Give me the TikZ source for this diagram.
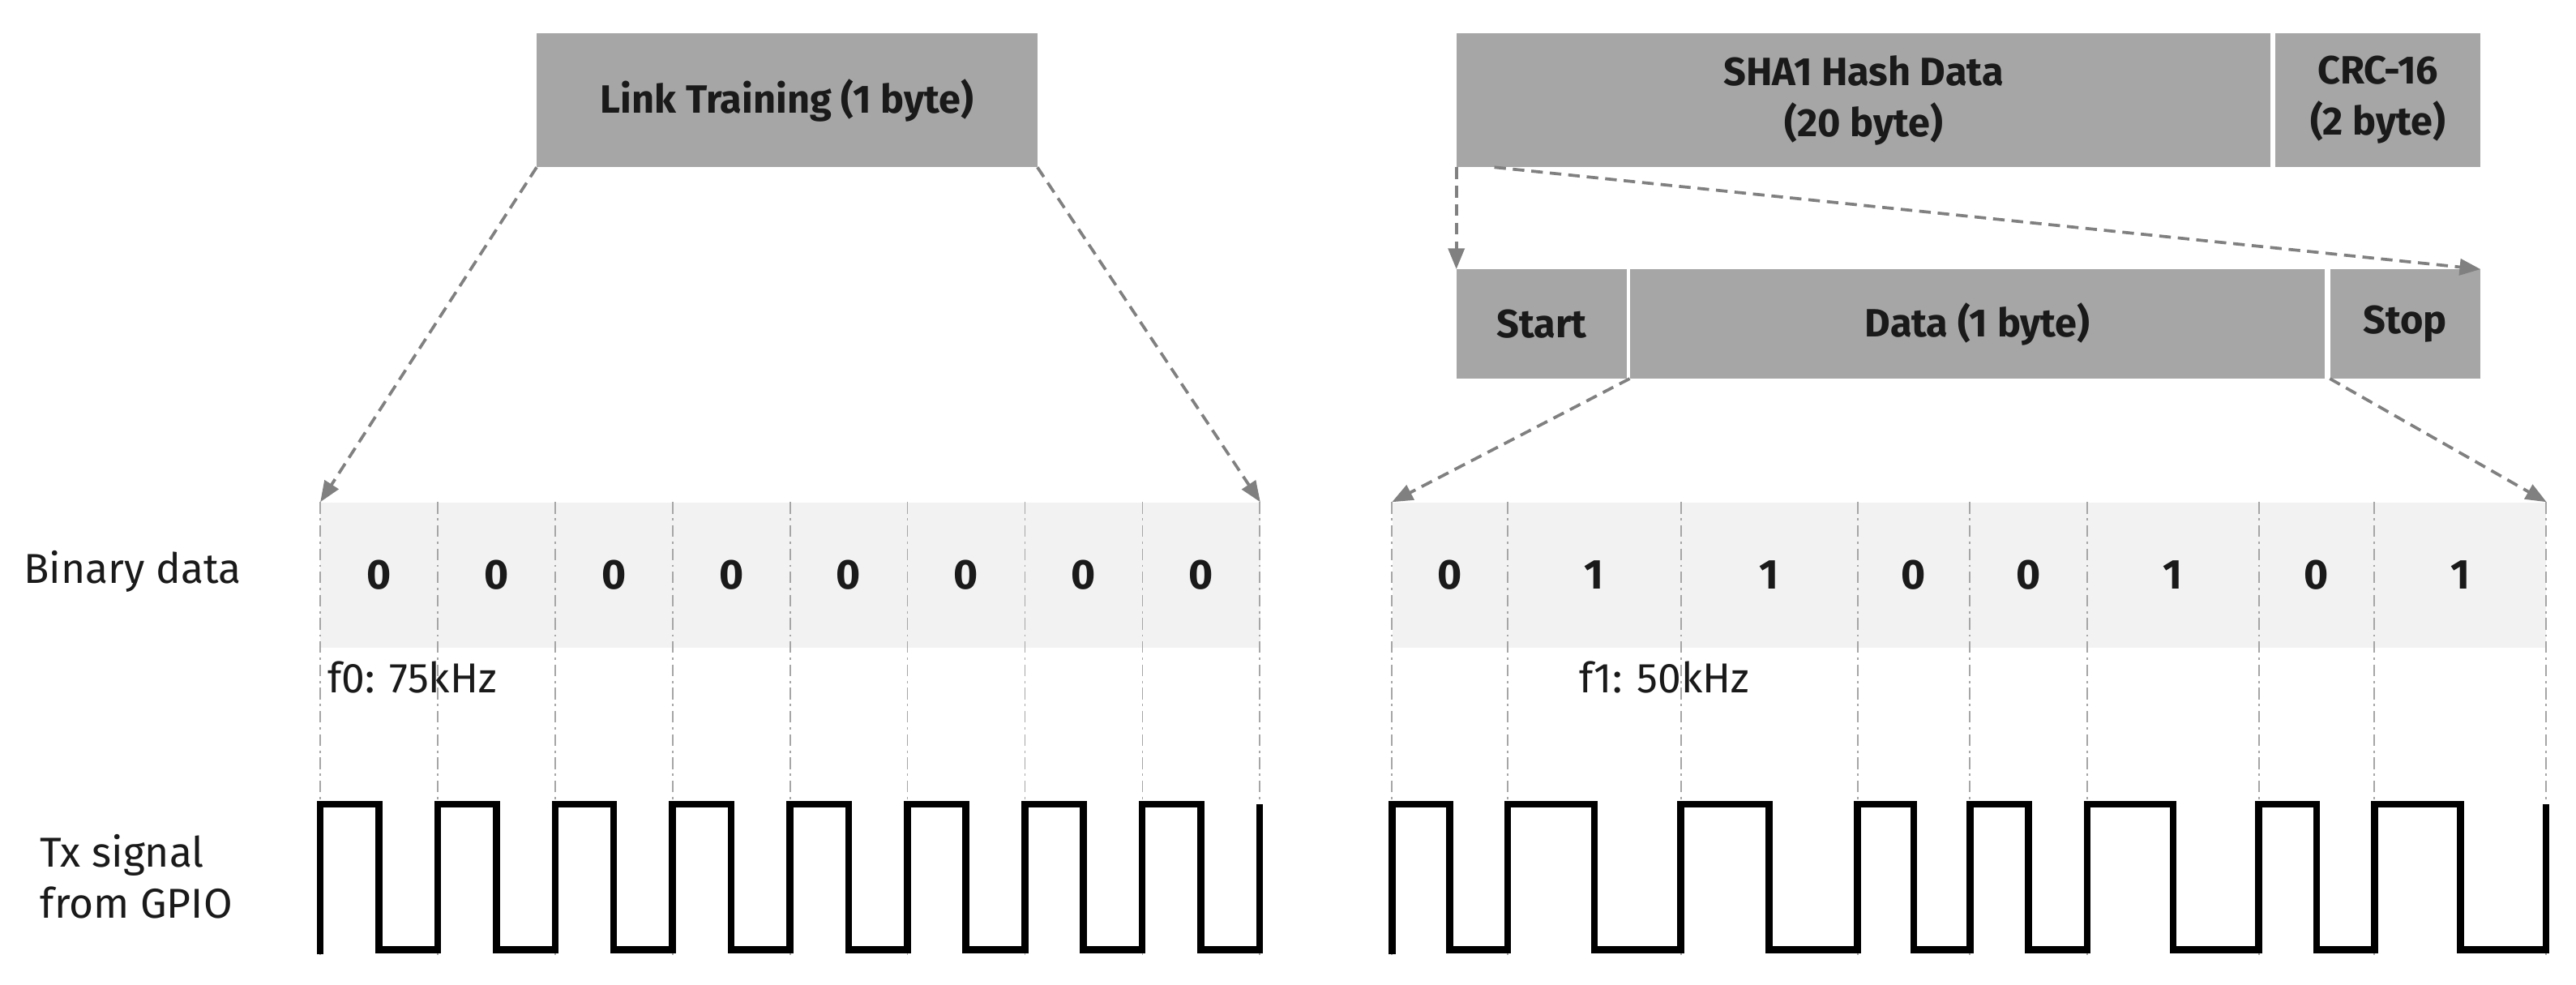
\documentclass[tikz,border=0pt]{standalone}
\usepackage{fontspec}
\setmainfont{Fira Sans}
\usetikzlibrary{arrows.meta,calc}
\definecolor{boxgray}{HTML}{A6A6A6}
\definecolor{bandgray}{HTML}{F2F2F2}
\definecolor{txt}{HTML}{1A1A1A}
\begin{document}
\begin{tikzpicture}[x=0.05cm,y=-0.05cm,
  box/.style={rectangle,fill=boxgray,inner sep=0,anchor=north west,align=center,text=txt,font=\fontsize{34}{44}\selectfont\bfseries},
  band/.style={rectangle,fill=bandgray,inner sep=0,anchor=north west,minimum height=4.4cm},
  zoomarrow/.style={draw=gray,line width=2.6pt,dash pattern=on 10pt off 6pt,-{Triangle[length=18pt,width=14pt]}},
  divider/.style={draw=gray!70,line width=1.2pt,dash pattern=on 10pt off 4pt on 2pt off 4pt},
  bit/.style={font=\fontsize{36}{40}\selectfont\bfseries,text=txt},
  lbl/.style={font=\fontsize{36}{44}\selectfont\light,text=txt,anchor=west,align=left},
  sig/.style={draw=black,line width=6pt,line join=miter,line cap=butt}]
\newcommand{\light}{\addfontfeature{FakeBold=0}}
\useasboundingbox (0,0) rectangle (1560.1,596);
% boxes
\node[box,minimum width=15.15cm,minimum height=4.05cm] (lt) at (325,20) {Link Training (1 byte)};
\node[box,minimum width=24.65cm,minimum height=4.05cm] (sha) at (882,20) {SHA1 Hash Data\\(20 byte)};
\node[box,minimum width=6.2cm,minimum height=4.05cm] (crc) at (1378,20) {CRC-16\\(2 byte)};
\node[box,minimum width=5.15cm,minimum height=3.3cm] (start) at (882,163) {Start};
\node[box,minimum width=21.05cm,minimum height=3.3cm] (data) at (987,163) {Data (1 byte)};
\node[box,minimum width=4.55cm,minimum height=3.3cm] (stop) at (1411,163) {Stop};
% bands
\node[band,minimum width=28.45cm] (b1) at (194,304) {};
\node[band,minimum width=34.95cm] (b2) at (843,304) {};
% dividers
\foreach \x in {194,265.1,336.2,407.4,478.5,549.6,620.7,691.9,763} \draw[divider] (\x,304) -- (\x,580);
\foreach \x in {843,913,1018,1125,1193,1264,1368,1438,1542} \draw[divider] (\x,304) -- (\x,580);
% zoom arrows
\draw[zoomarrow] (lt.south west) -- (b1.north west);
\draw[zoomarrow] (lt.south east) -- (b1.north east);
\draw[zoomarrow] (sha.south west) -- (start.north west);
\coordinate (shaR) at ($(sha.south west)+(23,0)$);
\draw[zoomarrow] (shaR) -- (stop.north east);
\draw[zoomarrow] (data.south west) -- (b2.north west);
\draw[zoomarrow] (stop.south west) -- (b2.north east);
% labels
\node[lbl] (bd) at (12,346) {Binary data};
\node[lbl] (tx) at (22,531) {Tx signal\\from GPIO};
\node[lbl] (f0) at (196,410) {f0: 75kHz};
\node[lbl] (f1) at (954,410) {f1: 50kHz};
% bits left
\foreach \i in {0,...,7} \node[bit] (l\i) at ({194+71.1*(\i+0.5)},348) {0};
% bits right
\foreach \a/\b/\v [count=\k] in {843/913/0,913/1018/1,1018/1125/1,1125/1193/0,1193/1264/0,1264/1368/1,1368/1438/0,1438/1542/1}
  \node[bit] (r\k) at ({(\a+\b)/2},348) {\v};
% signal left
\draw[sig] (194,578) -- (194,487)
  \foreach \i in {0,...,7} { -- ({194+71.1*\i+35.5},487) -- ({194+71.1*\i+35.5},575) -- ({194+71.1*(\i+1)},575) -- ({194+71.1*(\i+1)},487) };
% signal right
\draw[sig] (843,578) -- (843,487)
  \foreach \a/\b in {843/913,913/1018,1018/1125,1125/1193,1193/1264,1264/1368,1368/1438,1438/1542} { -- ({(\a+\b)/2},487) -- ({(\a+\b)/2},575) -- (\b,575) -- (\b,487) };
\end{tikzpicture}
\end{document}
